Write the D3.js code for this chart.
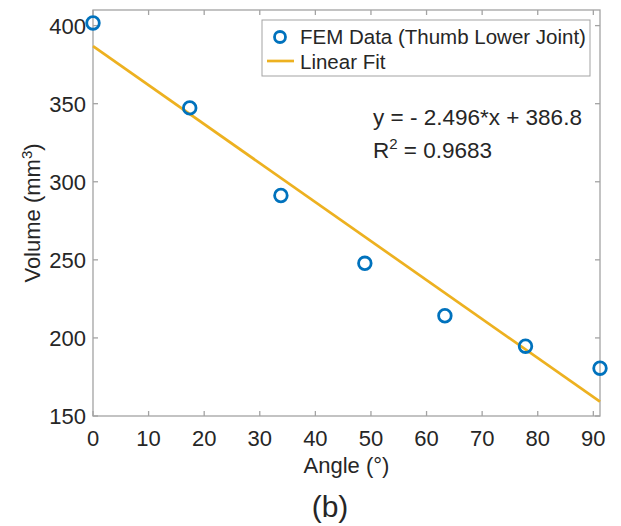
<!DOCTYPE html>
<html>
<head>
<meta charset="utf-8">
<script src="https://cdn.jsdelivr.net/npm/d3@7"></script>
<style>
  body { margin: 0; background: #fff; }
  text { font-family: "Liberation Sans", Arial, sans-serif; fill: #262626; }
</style>
</head>
<body>
<div id="chart"></div>
<script>
// data
var angles = [0, 17.4, 33.8, 48.9, 63.3, 77.8, 91.2];
var volumes = [401.7, 347.3, 291.2, 247.8, 214.2, 194.7, 180.6];
var fitSlope = -2.496;
var fitIntercept = 386.8;
var rSquared = 0.9683;
var xTicks = [0, 10, 20, 30, 40, 50, 60, 70, 80, 90];
var yTicks = [150, 200, 250, 300, 350, 400];
var legendLabels = ["FEM Data (Thumb Lower Joint)", "Linear Fit"];

var width = 621, height = 526;
var margin = {top: 10, right: 21, bottom: 110, left: 93};
var axisColor = "#a3a3a3";
var blue = "#0072BD", yellow = "#EDB120";

var svg = d3.select("#chart").append("svg")
  .attr("width", width)
  .attr("height", height);

var x = d3.scaleLinear()
  .domain([0, d3.max(angles)])
  .range([margin.left, width - margin.right]);
var y = d3.scaleLinear()
  .domain([150, 410])
  .range([height - margin.bottom, margin.top]);

var x0 = x.range()[0], x1 = x.range()[1];
var y0 = y.range()[0], y1 = y.range()[1];

// box
svg.append("rect")
  .attr("x", x0).attr("y", y1)
  .attr("width", x1 - x0).attr("height", y0 - y1)
  .attr("fill", "none")
  .attr("stroke", axisColor)
  .attr("stroke-width", 1.3);

// inward ticks on all four sides
var tl = 5;
xTicks.forEach(function (t) {
  svg.append("line").attr("x1", x(t)).attr("x2", x(t))
    .attr("y1", y0).attr("y2", y0 - tl)
    .attr("stroke", axisColor).attr("stroke-width", 1.3);
  svg.append("line").attr("x1", x(t)).attr("x2", x(t))
    .attr("y1", y1).attr("y2", y1 + tl)
    .attr("stroke", axisColor).attr("stroke-width", 1.3);
  svg.append("text")
    .attr("x", x(t)).attr("y", y0 + 30)
    .attr("text-anchor", "middle")
    .attr("font-size", 22)
    .text(t);
});
yTicks.forEach(function (t) {
  svg.append("line").attr("x1", x0).attr("x2", x0 + tl)
    .attr("y1", y(t)).attr("y2", y(t))
    .attr("stroke", axisColor).attr("stroke-width", 1.3);
  svg.append("line").attr("x1", x1).attr("x2", x1 - tl)
    .attr("y1", y(t)).attr("y2", y(t))
    .attr("stroke", axisColor).attr("stroke-width", 1.3);
  svg.append("text")
    .attr("x", x0 - 7).attr("y", y(t))
    .attr("dy", "0.36em")
    .attr("text-anchor", "end")
    .attr("font-size", 22)
    .text(t);
});

// axis labels
svg.append("text")
  .attr("x", (x0 + x1) / 2).attr("y", y0 + 57)
  .attr("text-anchor", "middle")
  .attr("font-size", 22)
  .text("Angle (°)");

var yl = svg.append("text")
  .attr("transform", "translate(40," + ((y0 + y1) / 2) + ") rotate(-90)")
  .attr("text-anchor", "middle")
  .attr("font-size", 22);
yl.append("tspan").text("Volume (mm");
yl.append("tspan").attr("dy", -8).attr("font-size", 15).text("3");
yl.append("tspan").attr("dy", 8).text(")");

svg.append("text")
  .attr("x", 330).attr("y", 517)
  .attr("text-anchor", "middle")
  .attr("font-size", 30)
  .text("(b)");

// fit line
var fit = function (a) { return fitSlope * a + fitIntercept; };
var line = d3.line()
  .x(function (d) { return x(d); })
  .y(function (d) { return y(fit(d)); });
svg.append("path")
  .datum(d3.extent(angles))
  .attr("d", line)
  .attr("fill", "none")
  .attr("stroke", yellow)
  .attr("stroke-width", 2.7);

// data markers
svg.selectAll("circle.pt")
  .data(angles)
  .enter()
  .append("circle")
  .attr("class", "pt")
  .attr("cx", function (d) { return x(d); })
  .attr("cy", function (d, i) { return y(volumes[i]); })
  .attr("r", 6.3)
  .attr("fill", "none")
  .attr("stroke", blue)
  .attr("stroke-width", 2.8);

// legend
var lg = svg.append("g").attr("transform", "translate(262,20)");
lg.append("rect")
  .attr("width", 328).attr("height", 56)
  .attr("fill", "#fff")
  .attr("stroke", axisColor)
  .attr("stroke-width", 1);
lg.append("circle")
  .attr("cx", 18).attr("cy", 17).attr("r", 5.5)
  .attr("fill", "none").attr("stroke", blue).attr("stroke-width", 2.8);
lg.append("line")
  .attr("x1", 5).attr("x2", 32).attr("y1", 41).attr("y2", 41)
  .attr("stroke", yellow).attr("stroke-width", 2.7);
legendLabels.forEach(function (s, i) {
  lg.append("text")
    .attr("x", 38).attr("y", 24 + i * 25)
    .attr("font-size", 20.5)
    .text(s);
});

// equation annotation
svg.append("text")
  .attr("x", 373).attr("y", 125)
  .attr("font-size", 22.5)
  .text("y = - " + Math.abs(fitSlope) + "*x + " + fitIntercept);
var r2 = svg.append("text")
  .attr("x", 373).attr("y", 158)
  .attr("font-size", 22.5);
r2.append("tspan").text("R");
r2.append("tspan").attr("dy", -9).attr("font-size", 15).text("2");
r2.append("tspan").attr("dy", 9).text(" = " + rSquared);
</script>
</body>
</html>
